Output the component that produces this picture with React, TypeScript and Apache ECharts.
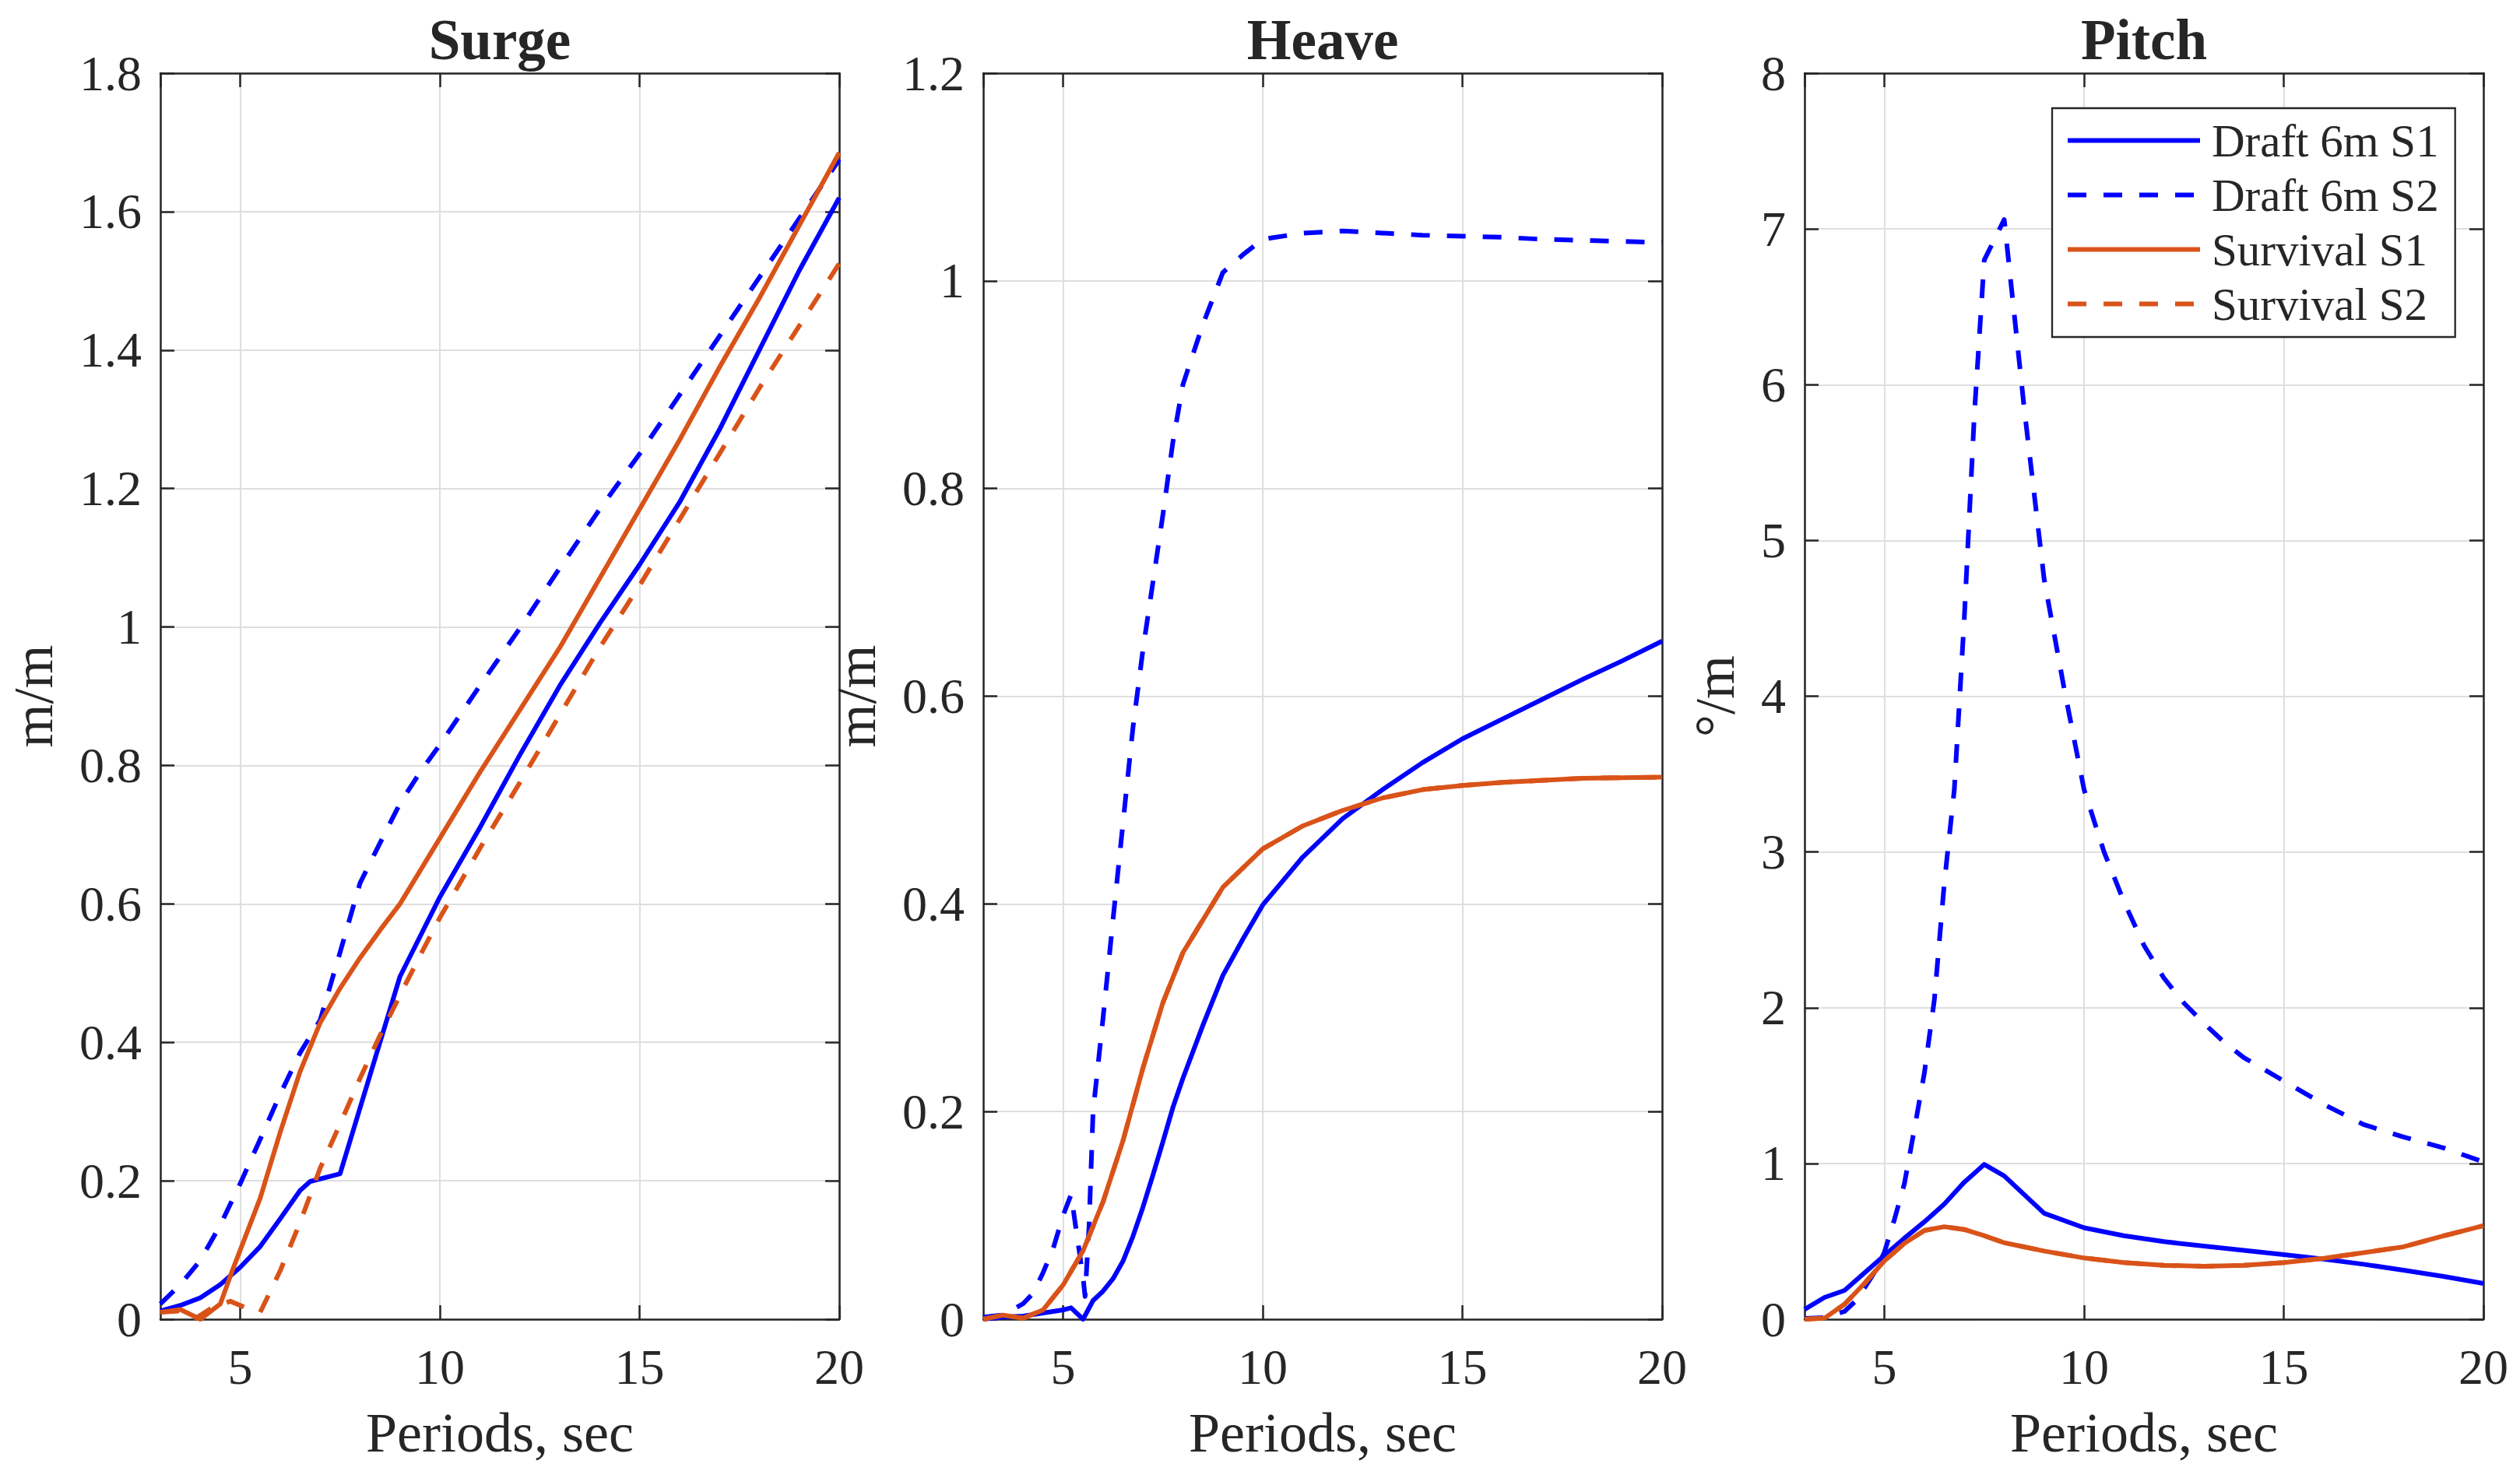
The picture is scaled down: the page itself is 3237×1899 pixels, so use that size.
import React, { useEffect, useRef } from "react";
import * as echarts from "echarts";

// ---------- labels ----------
const SERIES_NAMES = ["Draft 6m S1", "Draft 6m S2", "Survival S1", "Survival S2"];
const PANEL_TITLES = ["Surge", "Heave", "Pitch"];
const Y_UNITS = ["m/m", "m/m", "°/m"];
const X_LABEL = "Periods, sec";

// ---------- axis ranges ----------
const X_MIN = 3;
const X_MAX = 20;
const X_STEP = 5;
const Y_MAX = [1.8, 1.2, 8];
const Y_STEP = [0.2, 0.2, 1];

// ---------- Surge (m/m) ----------
const surgeDraftS1: number[][] = [
  [3, 0.012], [3.5, 0.02], [4, 0.031], [4.5, 0.05], [5, 0.075], [5.5, 0.105], [6, 0.145],
  [6.5, 0.186], [6.75, 0.199], [7.5, 0.21], [8, 0.305], [8.5, 0.4], [9, 0.495], [10, 0.61],
  [11, 0.71], [12, 0.815], [13, 0.915], [14, 1.005], [15, 1.09], [16, 1.18], [17, 1.285],
  [18, 1.4], [19, 1.515], [20, 1.62],
];
const surgeDraftS2: number[][] = [
  [3, 0.022], [3.5, 0.05], [4, 0.085], [4.5, 0.136], [5, 0.196], [5.5, 0.26], [6, 0.325],
  [6.5, 0.385], [7, 0.432], [7.5, 0.53], [8, 0.63], [8.5, 0.688], [9, 0.745], [9.5, 0.79],
  [10, 0.83], [11, 0.915], [12, 0.998], [13, 1.085], [14, 1.17], [15, 1.25], [16, 1.335],
  [17, 1.42], [18, 1.505], [19, 1.59], [20, 1.675],
];
const surgeSurvS1: number[][] = [
  [3, 0.01], [3.5, 0.014], [4, 0.0], [4.5, 0.022], [4.8, 0.07], [5, 0.1], [5.5, 0.175],
  [6, 0.27], [6.5, 0.358], [7, 0.428], [7.5, 0.478], [8, 0.522], [8.5, 0.562], [9, 0.6],
  [10, 0.695], [11, 0.79], [12, 0.88], [13, 0.97], [14, 1.07], [15, 1.17], [16, 1.27],
  [17, 1.375], [18, 1.475], [19, 1.58], [20, 1.685],
];
const surgeSurvS2: number[][] = [
  [3, 0.01], [3.5, 0.012], [3.9, 0.002], [4.25, 0.015], [4.75, 0.026], [5.2, 0.015],
  [5.5, 0.01], [6, 0.07], [6.5, 0.14], [7, 0.218], [7.5, 0.282], [8, 0.348], [8.5, 0.41],
  [9, 0.468], [9.5, 0.525], [10, 0.58], [11, 0.68], [12, 0.775], [13, 0.873], [14, 0.97],
  [15, 1.06], [16, 1.155], [17, 1.25], [18, 1.345], [19, 1.435], [20, 1.525],
];

// ---------- Heave (m/m) ----------
const heaveDraftS1: number[][] = [
  [3, 0.0], [3.5, 0.002], [4, 0.003], [4.5, 0.006], [5, 0.009], [5.2, 0.011], [5.5, 0.0],
  [5.75, 0.018], [6, 0.027], [6.25, 0.039], [6.5, 0.056], [6.75, 0.08], [7, 0.108],
  [7.25, 0.139], [7.5, 0.171], [7.75, 0.204], [8, 0.232], [8.5, 0.283], [9, 0.331],
  [9.5, 0.366], [10, 0.399], [11, 0.445], [12, 0.482], [13, 0.51], [14, 0.536], [15, 0.559],
  [16, 0.578], [17, 0.597], [18, 0.616], [19, 0.634], [20, 0.653],
];
const heaveDraftS2: number[][] = [
  [3, 0.002], [3.5, 0.004], [4, 0.015], [4.25, 0.025], [4.5, 0.045], [4.75, 0.068], [5, 0.1],
  [5.2, 0.12], [5.35, 0.08], [5.5, 0.04], [5.55, 0.022], [5.65, 0.09], [5.75, 0.2], [6, 0.29],
  [6.25, 0.385], [6.5, 0.478], [6.75, 0.57], [7, 0.645], [7.25, 0.71], [7.5, 0.775],
  [7.75, 0.845], [8, 0.9], [8.5, 0.958], [9, 1.008], [9.5, 1.025], [10, 1.04], [11, 1.046],
  [12, 1.048], [13, 1.046], [14, 1.044], [15, 1.043], [16, 1.042], [17, 1.04], [18, 1.039],
  [19, 1.038], [20, 1.037],
];
const heaveSurvS1: number[][] = [
  [3, 0.0], [3.5, 0.004], [4, 0.001], [4.5, 0.009], [5, 0.033], [5.5, 0.066], [6, 0.113],
  [6.5, 0.172], [7, 0.242], [7.5, 0.305], [8, 0.353], [9, 0.416], [10, 0.453], [11, 0.475],
  [12, 0.49], [13, 0.502], [14, 0.51], [15, 0.514], [16, 0.517], [18, 0.521], [20, 0.522],
];
const heaveSurvS2: number[][] = [
  [3, 0.0], [3.5, 0.004], [4, 0.001], [4.5, 0.009], [5, 0.033], [5.5, 0.066], [6, 0.113],
  [6.5, 0.172], [7, 0.242], [7.5, 0.305], [8, 0.353], [9, 0.416], [10, 0.453], [11, 0.475],
  [12, 0.49], [13, 0.502], [14, 0.51], [15, 0.514], [16, 0.517], [18, 0.521], [20, 0.522],
];

// ---------- Pitch (deg/m) ----------
const pitchDraftS1: number[][] = [
  [3, 0.063], [3.5, 0.14], [4, 0.185], [4.5, 0.297], [5, 0.41], [5.5, 0.52], [6, 0.625],
  [6.5, 0.74], [7, 0.88], [7.5, 0.994], [8, 0.92], [8.5, 0.8], [9, 0.68], [10, 0.587],
  [11, 0.536], [12, 0.498], [13, 0.47], [14, 0.442], [15, 0.415], [16, 0.386], [17, 0.353],
  [18, 0.315], [19, 0.275], [20, 0.23],
];
const pitchDraftS2: number[][] = [
  [3, 0.005], [3.5, 0.01], [4, 0.05], [4.25, 0.11], [4.5, 0.2], [4.75, 0.3], [5, 0.43],
  [5.25, 0.64], [5.5, 0.87], [5.75, 1.22], [6, 1.58], [6.25, 2.05], [6.5, 2.8], [6.75, 3.4],
  [7, 4.5], [7.25, 5.8], [7.5, 6.8], [8, 7.06], [8.5, 5.85], [9, 4.75], [9.5, 4.05],
  [10, 3.4], [10.5, 3.0], [11, 2.68], [11.5, 2.4], [12, 2.19], [12.5, 2.03], [13, 1.9],
  [13.5, 1.78], [14, 1.68], [15, 1.53], [16, 1.38], [17, 1.25], [18, 1.17], [19, 1.1],
  [20, 1.01],
];
const pitchSurvS1: number[][] = [
  [3, 0.0], [3.5, 0.007], [4, 0.096], [4.5, 0.23], [5, 0.375], [5.5, 0.487], [6, 0.57],
  [6.5, 0.594], [7, 0.576], [7.5, 0.536], [8, 0.491], [9, 0.438], [10, 0.393], [11, 0.364],
  [12, 0.346], [13, 0.34], [14, 0.346], [15, 0.364], [16, 0.391], [17, 0.427], [18, 0.465],
  [19, 0.535], [20, 0.6],
];
const pitchSurvS2: number[][] = [
  [3, 0.0], [3.5, 0.007], [4, 0.096], [4.5, 0.23], [5, 0.375], [5.5, 0.487], [6, 0.57],
  [6.5, 0.594], [7, 0.576], [7.5, 0.536], [8, 0.491], [9, 0.438], [10, 0.393], [11, 0.364],
  [12, 0.346], [13, 0.34], [14, 0.346], [15, 0.364], [16, 0.391], [17, 0.427], [18, 0.465],
  [19, 0.535], [20, 0.6],
];

const PANEL_DATA = [
  [surgeDraftS1, surgeDraftS2, surgeSurvS1, surgeSurvS2],
  [heaveDraftS1, heaveDraftS2, heaveSurvS1, heaveSurvS2],
  [pitchDraftS1, pitchDraftS2, pitchSurvS1, pitchSurvS2],
];

// ---------- styles ----------
const FONT = "'Liberation Serif', 'Times New Roman', Times, serif";
const INK = "#262626";
const GRID_COLOR = "#dedede";
const SERIES_COLORS = ["#0000ff", "#0000ff", "#d95319", "#d95319"];
const SERIES_DASH: any[] = ["solid", [24, 22], "solid", [24, 22]];
const LINE_W = 6;

const W = 3237;
const H = 1899;
const GRID_LEFTS = [206, 1263, 2318];
const GRID_TOP = 94;
const GRID_W = 872;
const GRID_H = 1601;
const Y_NAME_GAPS = [127, 127, 79];

function buildOption() {
  const grid: any[] = [];
  const xAxis: any[] = [];
  const yAxis: any[] = [];
  const series: any[] = [];
  const title: any[] = [];

  const axisLine = { show: true, onZero: false, lineStyle: { color: INK, width: 2.5 } };
  const axisTick = { show: true, inside: true, length: 18, lineStyle: { color: INK, width: 2.5 } };

  for (let p = 0; p < 3; p++) {
    grid.push({ left: GRID_LEFTS[p], top: GRID_TOP, width: GRID_W, height: GRID_H, containLabel: false });
    title.push({
      text: PANEL_TITLES[p],
      left: GRID_LEFTS[p] + GRID_W / 2,
      top: 15,
      textAlign: "center",
      padding: 0,
      textStyle: { fontFamily: FONT, fontSize: 73, fontWeight: "bold", color: INK, lineHeight: 73 },
    });
    const xCommon = {
      type: "value",
      gridIndex: p,
      min: X_MIN,
      max: X_MAX,
      minInterval: X_STEP,
      maxInterval: X_STEP,
      axisLine,
      axisTick,
    };
    xAxis.push({
      ...xCommon,
      position: "bottom",
      axisLabel: {
        show: true,
        showMinLabel: false,
        fontFamily: FONT,
        fontSize: 64,
        lineHeight: 64,
        color: INK,
        margin: 29,
        formatter: (v: number) => (v === X_MIN ? "" : String(v)),
      },
      splitLine: { show: true, lineStyle: { color: GRID_COLOR, width: 2 } },
      name: X_LABEL,
      nameLocation: "middle",
      nameGap: 110,
      nameTextStyle: { fontFamily: FONT, fontSize: 72, lineHeight: 72, color: INK },
    });
    xAxis.push({
      ...xCommon,
      position: "top",
      axisLabel: { show: false },
      splitLine: { show: false },
    });
    const yCommon = {
      type: "value",
      gridIndex: p,
      min: 0,
      max: Y_MAX[p],
      interval: Y_STEP[p],
      axisLine,
      axisTick,
    };
    yAxis.push({
      ...yCommon,
      position: "left",
      axisLabel: { show: true, fontFamily: FONT, fontSize: 64, color: INK, margin: 24 },
      splitLine: { show: true, lineStyle: { color: GRID_COLOR, width: 2 } },
      name: Y_UNITS[p],
      nameLocation: "middle",
      nameRotate: 90,
      nameGap: Y_NAME_GAPS[p],
      nameTextStyle: { fontFamily: FONT, fontSize: 72, lineHeight: 72, color: INK },
    });
    yAxis.push({
      ...yCommon,
      position: "right",
      axisLabel: { show: false },
      splitLine: { show: false },
    });

    for (let s = 0; s < 4; s++) {
      series.push({
        type: "line",
        name: SERIES_NAMES[s],
        xAxisIndex: 2 * p,
        yAxisIndex: 2 * p,
        data: PANEL_DATA[p][s],
        showSymbol: false,
        symbol: "none",
        smooth: false,
        clip: true,
        color: SERIES_COLORS[s],
        itemStyle: { color: SERIES_COLORS[s] },
        lineStyle: { color: SERIES_COLORS[s], width: LINE_W, type: SERIES_DASH[s], cap: "butt", join: "round" },
        emphasis: { disabled: true },
        z: 2 + s,
      });
    }
  }

  return {
    animation: false,
    backgroundColor: "#ffffff",
    title,
    grid,
    xAxis,
    yAxis,
    series,
    legend: {
      show: true,
      data: SERIES_NAMES,
      orient: "vertical",
      left: 2636,
      top: 139,
      padding: [12, 21, 13, 17],
      itemWidth: 170,
      itemHeight: 20,
      itemGap: 11,
      selectedMode: false,
      backgroundColor: "#ffffff",
      borderColor: INK,
      borderWidth: 2.3,
      borderRadius: 0,
      itemStyle: { opacity: 0, borderWidth: 0 },
      lineStyle: { width: LINE_W, opacity: 1 },
      textStyle: { fontFamily: FONT, fontSize: 59, lineHeight: 59, color: INK, padding: [0, 0, 0, 10] },
    },
  };
}

export default function App() {
  const ref = useRef<HTMLDivElement>(null);
  useEffect(() => {
    if (!ref.current) return;
    const chart = echarts.init(ref.current, null, { renderer: "svg", width: W, height: H });
    chart.setOption(buildOption() as any);
    return () => chart.dispose();
  }, []);
  return (
    <div
      ref={ref}
      style={{ position: "fixed", left: 0, top: 0, width: W + "px", height: H + "px", background: "#fff" }}
    />
  );
}
